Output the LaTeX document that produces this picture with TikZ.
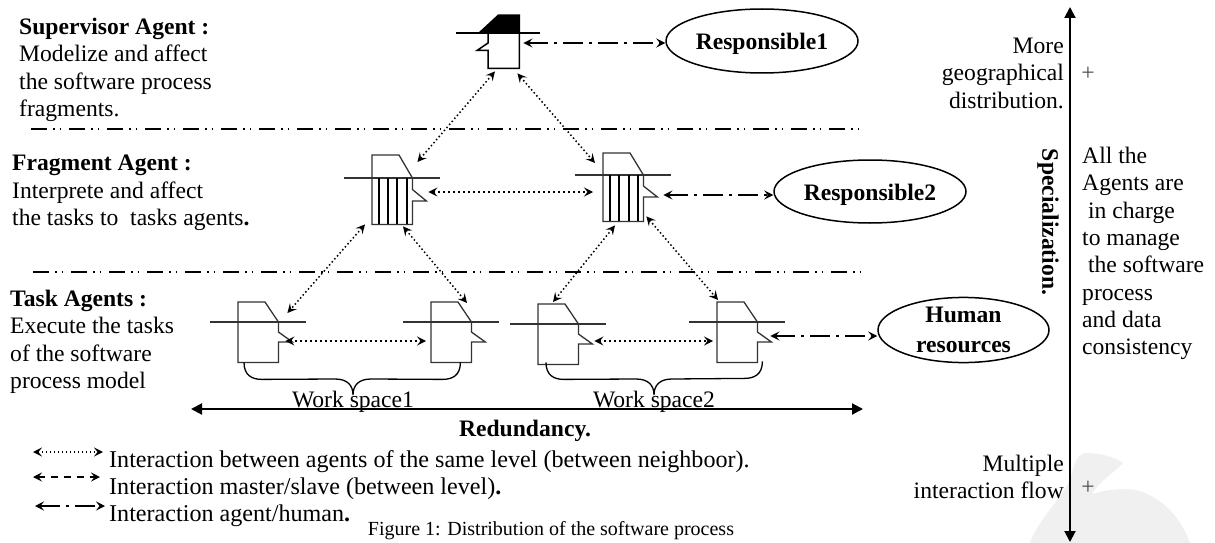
\documentclass[tikz,border=0pt]{standalone}
\usepackage{fontspec}
\setmainfont{Liberation Serif}
\usetikzlibrary{arrows.meta}
\usetikzlibrary{calc}
\usetikzlibrary{shapes.geometric}
\newcommand{\bodysize}{\fontsize{23.6}{27.3}\selectfont}
\newcommand{\legendsize}{\fontsize{24.1}{27.3}\selectfont}
\newcommand{\captionsize}{\fontsize{20}{24}\selectfont}
% agent figure: name, x, y of the body corner, hat height, body height
\newcommand{\agentfig}[5]{
  \node[agent body,minimum height=#5pt] (#1) at (#2,#3) {};
  \draw[agent line] ([xshift=-28pt]#1.north west) -- ++(96,0);
  \draw[agent line] (#1.north west) -- ++(0,-#4) -- ++(27,0) -- (#1.north east)
    -- ++(0,#4/2) -- ++(14,#4/2) -- ++(-14,0) -- (#1.south east)
    -- (#1.south west) -- cycle;
}
\newcommand{\spacebrace}[3]{
  \draw[brace line] (#1) .. controls +(0,13) and +(-10,0) .. ++(18,17)
    -- ($(#3)+(-18,-16)$) .. controls +(12,0) and +(0,-10) .. (#3)
    .. controls +(0,-10) and +(-12,0) .. ($(#3)+(18,-16)$)
    -- ($(#2)+(-18,17)$) .. controls +(10,0) and +(0,13) .. (#2);
}
\begin{document}
\begin{tikzpicture}[x=1pt,y=-1pt,>={Stealth[length=9pt,width=9pt,inset=3.5pt]},
    agent body/.style={inner sep=0,minimum width=40pt,anchor=north west},
    agent line/.style={draw=black!80,line width=1.3pt},
    brace line/.style={line width=1.3pt},
    dot link/.style={<->,line width=1.5pt,dash pattern=on 1.5pt off 2.5pt},
    dot flat/.style={<->,line width=2pt,dash pattern=on 2pt off 3pt},
    dash link/.style={<->,line width=1.3pt,dash pattern=on 7pt off 6pt},
    human link/.style={<->,line width=2pt,dash pattern=on 20pt off 6pt on 3pt off 6pt},
    level line/.style={line width=2pt,dash pattern=on 16pt off 6pt on 1.5pt off 5pt on 1.5pt off 8pt},
    axis line/.style={{Stealth[length=11pt,width=11pt,inset=0pt]}-{Stealth[length=11pt,width=11pt,inset=0pt]},line width=2pt},
    actor/.style={draw,ellipse,line width=1.5pt,inner sep=0,align=center,font=\bodysize\bfseries},
    resp text/.style={text height=22pt,text depth=5pt},
    side text/.style={inner sep=0,align=left,anchor=north west,font=\bodysize},
    right text/.style={inner sep=0,align=right,anchor=north east,font=\bodysize},
    legend text/.style={inner sep=0,align=left,anchor=north west,font=\legendsize},
    plus mark/.style={inner sep=0,text=black!70,font=\bodysize}]
    \useasboundingbox (0,0) rectangle (1215,543);
    % watermark
    \fill[black!6] (1030,543) .. controls (1038,520) and (1060,500) .. (1070,480)
      .. controls (1074,465) and (1076,454) .. (1086,453)
      .. controls (1100,453) and (1115,457) .. (1123,463)
      .. controls (1112,475) and (1100,480) .. (1092,494)
      .. controls (1105,490) and (1120,488) .. (1137,490)
      .. controls (1160,497) and (1180,515) .. (1190,543) -- cycle;

    % level texts
    \node[side text] (supT) at (19,18) {\textbf{Supervisor Agent :}\\Modelize and affect\\the software process\\fragments.};
    \node[side text] (fragT) at (12,155) {\textbf{Fragment Agent :}\\Interprete and affect\\the tasks to~ tasks agents\textbf{.}};
    \node[side text] (taskT) at (10,290) {\textbf{Task Agents :}\\Execute the tasks\\of the software\\process model};

    \coordinate (lev1a) at (31,129);
    \coordinate (lev1b) at (862,129);
    \coordinate (lev2a) at (33,272);
    \coordinate (lev2b) at (864,272);
    \draw[level line] (lev1a) -- (lev1b);
    \draw[level line] (lev2a) -- (lev2b);

    % supervisor
    \node[agent body,minimum width=31pt,minimum height=35pt] (sup) at (488,33) {};
    \fill (478,33) -- (498,14.5) -- (520,14.5) -- (520,33) -- cycle;
    \draw[line width=1.5pt] ([xshift=-32pt]sup.north west) -- ++(84,0);
    \draw[line width=1.5pt] (sup.north west) -- ++(0,10) -- ++(-11,7.5) -- ++(11,0)
      -- (sup.south west) -- (sup.south east) -- (sup.north east);

    % fragment agents
    \agentfig{frag1}{372}{178}{23}{46}
    \agentfig{frag2}{603}{175}{22}{46}
    \draw[line width=1.2pt] (379,178) -- (379,224) (388,178) -- (388,224)
      (397,178) -- (397,224) (407,178) -- (407,224);
    \draw[line width=1.2pt] (610,175) -- (610,221) (619,175) -- (619,221)
      (629,175) -- (629,221) (638,175) -- (638,221);

    % task agents
    \agentfig{task1}{238}{322}{20}{40}
    \agentfig{task2}{431}{322}{20}{40}
    \agentfig{task3}{538}{324}{20}{40}
    \agentfig{task4}{717}{322}{20}{40}

    % humans
    \node[actor,resp text,minimum width=192pt,minimum height=64pt] (resp1) at (762,41) {Responsible1};
    \node[actor,resp text,minimum width=192pt,minimum height=63pt] (resp2) at (870,191.5) {Responsible2};
    \node[actor,minimum width=171pt,minimum height=64pt] (human) at (963.5,330) {Human\\[3pt]resources};

    % links
    \draw[dot link] ([shift={(7,3)}]sup.south west) -- ([shift={(5,-16)}]frag1.north east);
    \draw[dot link] ([shift={(-2,5)}]sup.south east) -- ([shift={(-8,-12)}]frag2.north west);
    \draw[dot flat] ([shift={(16,14)}]frag1.north east) -- ([shift={(-10,17)}]frag2.north west);
    \draw[dot link] ([shift={(-7,0)}]frag1.south west) -- ([shift={(9,-9)}]task1.north east);
    \draw[dot link] ([shift={(31,2)}]frag1.south west) -- ([shift={(36,-19)}]task2.north west);
    \draw[dot link] ([shift={(12,4)}]frag2.south west) -- ([shift={(15,-22)}]task3.north west);
    \draw[dot link] ([shift={(3,-5)}]frag2.south east) -- ([shift={(1,-22)}]task4.north west);
    \draw[dot flat] ([shift={(7,19)}]task1.north east) -- ([shift={(-5,19)}]task2.north west);
    \draw[dot flat] ([shift={(16,17)}]task3.north east) -- ([shift={(-4,19)}]task4.north west);
    \draw[human link] ([shift={(4,10)}]sup.north east) -- ([yshift=-2pt]resp1.west);
    \draw[human link] ([shift={(20,20)}]frag2.north east) -- ([yshift=-3.5pt]resp2.west);
    \draw[human link] ([shift={(13,14)}]task4.north east) -- ([yshift=-6pt]human.west);

    % work spaces
    \coordinate (tip1) at (353,395);
    \coordinate (tip2) at (654,395);
    \spacebrace{$(task1.south west)+(6,0)$}{$(task2.south east)+(-11,0)$}{tip1}
    \spacebrace{$(task3.south west)+(8,-2)$}{$(task4.south east)+(5,-1)$}{tip2}
    \node[inner sep=0,font=\bodysize] (ws1) at (353,402) {Work space1};
    \node[inner sep=0,font=\bodysize] (ws2) at (654,402) {Work space2};

    % axes
    \coordinate (redL) at (191,409);
    \coordinate (redR) at (863,409);
    \coordinate (speT) at (1070,7);
    \coordinate (speB) at (1070,542);
    \draw[axis line] (redL) -- (redR);
    \draw[axis line] (speT) -- (speB);
    \node[inner sep=0,font=\bodysize\bfseries] (red) at (525,431) {Redundancy.};
    \node[inner sep=0,rotate=-90,font=\bodysize\bfseries] (spe) at (1048,222) {Specialization.};

    % right column
    \node[right text] (more) at (1064,38) {More\\geographical\\distribution.};
    \node[plus mark] (plus1) at (1088,74) {+};
    \node[side text] (allT) at (1082,147) {All the\\Agents are\\~in charge\\to manage\\~the software\\process\\and data\\consistency};
    \node[right text] (multi) at (1064,455) {Multiple\\interaction flow};
    \node[plus mark] (plus2) at (1088,488) {+};

    % legend
    \node[legend text] (leg1) at (109,450) {Interaction between agents of the same level (between neighboor).};
    \node[legend text] (leg2) at (109,478) {Interaction master/slave (between level)\textbf{.}};
    \node[legend text] (leg3) at (109,505) {Interaction agent/human\textbf{.}};
    \coordinate (leg1a) at (33,452);
    \coordinate (leg1b) at (103,452);
    \coordinate (leg2a) at (33,477);
    \coordinate (leg2b) at (100,477);
    \coordinate (leg3a) at (35,506);
    \coordinate (leg3b) at (105,506);
    \draw[dot link] (leg1a) -- (leg1b);
    \draw[dash link] (leg2a) -- (leg2b);
    \draw[human link] (leg3a) -- (leg3b);
    \node[inner sep=0,font=\captionsize] (cap) at (551,531) {Figure 1: Distribution of the software process};
\end{tikzpicture}
\end{document}
